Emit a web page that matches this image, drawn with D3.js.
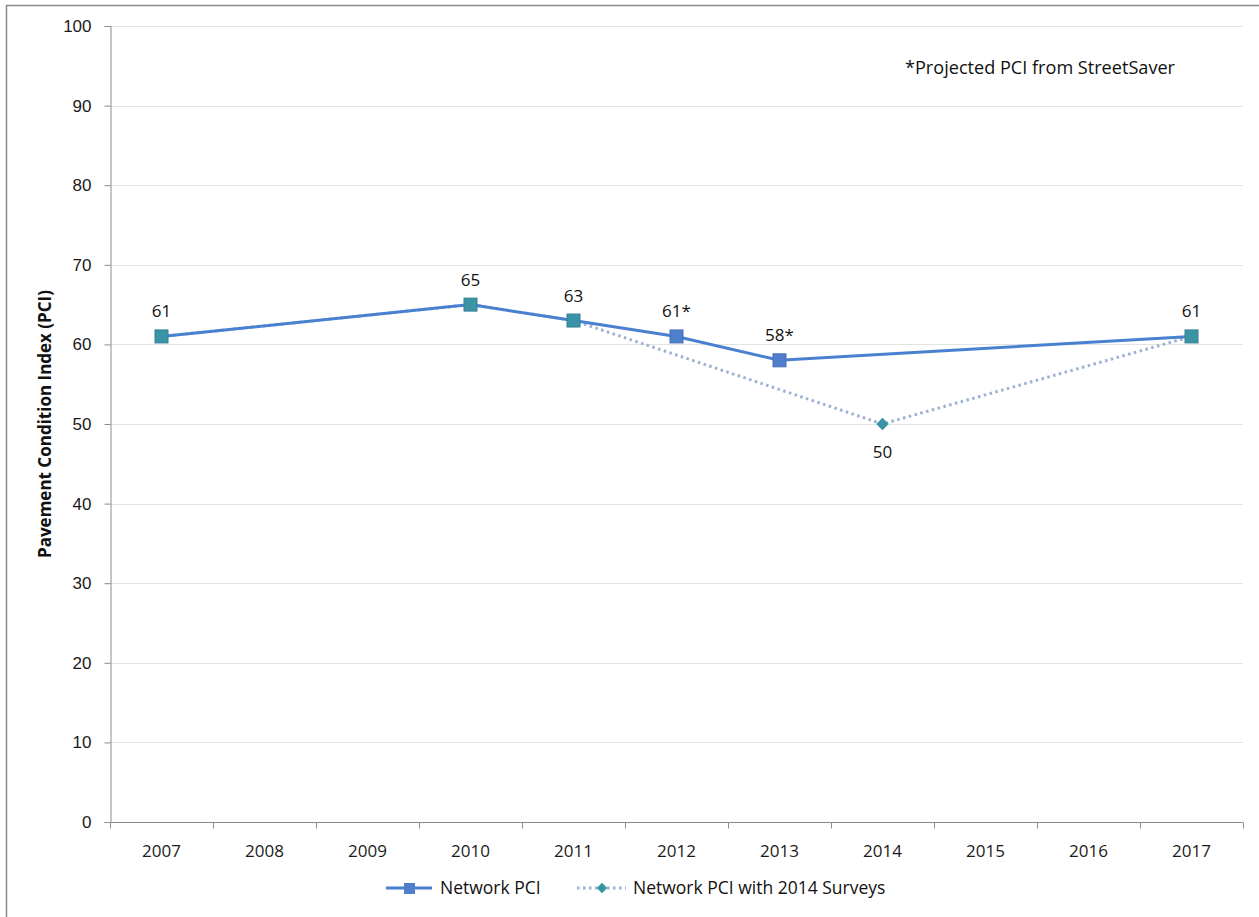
<!DOCTYPE html>
<html>
<head>
<meta charset="utf-8">
<script src="https://cdn.jsdelivr.net/npm/d3@7"></script>
<style>
  html, body { margin: 0; padding: 0; background: #fff; }
  svg { display: block; font-family: "Open Sans", "Liberation Sans", sans-serif; }
</style>
</head>
<body>
<svg id="chart" width="1259" height="917"></svg>
<script>
// Categories and series
const years = ["2007", "2008", "2009", "2010", "2011", "2012", "2013", "2014", "2015", "2016", "2017"];
const networkPCI = [
  { year: "2007", value: 61, label: "61" },
  { year: "2010", value: 65, label: "65" },
  { year: "2011", value: 63, label: "63" },
  { year: "2012", value: 61, label: "61*" },
  { year: "2013", value: 58, label: "58*" },
  { year: "2017", value: 61, label: "61" }
];
const surveyPCI = [
  { year: "2007", value: 61 },
  { year: "2010", value: 65 },
  { year: "2011", value: 63 },
  { year: "2014", value: 50, label: "50" },
  { year: "2017", value: 61 }
];
const yTicks = [0, 10, 20, 30, 40, 50, 60, 70, 80, 90, 100];
const seriesNames = ["Network PCI", "Network PCI with 2014 Surveys"];
const note = "*Projected PCI from StreetSaver";
const yTitle = "Pavement Condition Index (PCI)";

const blue = "#4a80d0";
const blueMarker = "#4f7fcc";
const teal = "#3a94a6";
const dotted = "#9cb1d2";
const axisGray = "#8c8c8c";
const gridGray = "#e3e3e3";

const svg = d3.select("#chart");
const plot = { left: 110, right: 1243, top: 26, bottom: 822 };

// Outer frame
svg.append("rect")
  .attr("x", 6.5).attr("y", 5.5)
  .attr("width", 1300).attr("height", 1000)
  .attr("fill", "none").attr("stroke", "#8a8a8a").attr("stroke-width", 1.5);

const x = d3.scaleBand().domain(years).range([plot.left, plot.right]);
const y = d3.scaleLinear().domain([0, 100]).range([plot.bottom, plot.top]);
const cx = d => x(d.year) + x.bandwidth() / 2;

// Gridlines
svg.append("g").selectAll("line").data(yTicks.filter(t => t > 0)).join("line")
  .attr("x1", plot.left).attr("x2", plot.right)
  .attr("y1", d => Math.round(y(d)) + 0.5).attr("y2", d => Math.round(y(d)) + 0.5)
  .attr("stroke", gridGray).attr("stroke-width", 1);

// Y axis
const yAxis = svg.append("g")
  .attr("transform", `translate(${plot.left + 0.5},0)`)
  .call(d3.axisLeft(y).tickValues(yTicks).tickSize(6).tickPadding(13));
yAxis.select(".domain").attr("stroke", axisGray);
yAxis.selectAll(".tick line").attr("stroke", axisGray);
yAxis.selectAll(".tick text").attr("font-size", 17).attr("fill", "#1a1a1a");

// X axis with ticks between categories
const xAxisG = svg.append("g").attr("transform", `translate(0,${Math.round(y(0)) + 0.5})`);
xAxisG.append("line")
  .attr("x1", plot.left).attr("x2", plot.right)
  .attr("stroke", axisGray);
const boundaries = years.map(d => x(d)).concat([plot.right]);
xAxisG.selectAll("line.tk").data(boundaries).join("line")
  .attr("class", "tk")
  .attr("x1", d => Math.round(d) + 0.5).attr("x2", d => Math.round(d) + 0.5)
  .attr("y1", 0).attr("y2", 6)
  .attr("stroke", axisGray);
xAxisG.selectAll("text").data(years).join("text")
  .attr("x", d => x(d) + x.bandwidth() / 2)
  .attr("y", 34)
  .attr("text-anchor", "middle")
  .attr("font-size", 17).attr("fill", "#1a1a1a")
  .text(d => d);

// Y axis title
svg.append("text")
  .attr("transform", `translate(51,${(plot.top + plot.bottom) / 2}) rotate(-90)`)
  .attr("text-anchor", "middle")
  .attr("font-size", 17).attr("font-weight", "bold").attr("fill", "#111")
  .text(yTitle);

const line = d3.line().x(cx).y(d => y(d.value));

// Series: with 2014 surveys (dotted)
svg.append("path")
  .datum(surveyPCI)
  .attr("d", line)
  .attr("fill", "none").attr("stroke", dotted)
  .attr("stroke-width", 3).attr("stroke-dasharray", "2.5,3.5");

// Series: network PCI (solid)
svg.append("path")
  .datum(networkPCI)
  .attr("d", line)
  .attr("fill", "none").attr("stroke", blue).attr("stroke-width", 3);

// Square markers (teal where the survey series shares the point)
const surveyYears = new Set(surveyPCI.map(d => d.year));
svg.append("g").selectAll("rect").data(networkPCI).join("rect")
  .attr("x", d => cx(d) - 6.5).attr("y", d => y(d.value) - 6.5)
  .attr("width", 13).attr("height", 13)
  .attr("fill", d => surveyYears.has(d.year) ? teal : blueMarker)
  .attr("stroke", d => surveyYears.has(d.year) ? "#347f92" : "#4470b8")
  .attr("stroke-width", 1);

// Diamond markers for survey-only points
const netYears = new Set(networkPCI.map(d => d.year));
svg.append("g").selectAll("path").data(surveyPCI.filter(d => !netYears.has(d.year))).join("path")
  .attr("d", d3.symbol(d3.symbolDiamond2, 100)())
  .attr("transform", d => `translate(${cx(d)},${y(d.value)})`)
  .attr("fill", teal);

// Data labels
svg.append("g").selectAll("text").data(networkPCI).join("text")
  .attr("x", d => cx(d)).attr("y", d => y(d.value) - 19)
  .attr("text-anchor", "middle")
  .attr("font-size", 17).attr("fill", "#111")
  .text(d => d.label);
svg.append("g").selectAll("text").data(surveyPCI.filter(d => d.label)).join("text")
  .attr("x", d => cx(d)).attr("y", d => y(d.value) + 34)
  .attr("text-anchor", "middle")
  .attr("font-size", 17).attr("fill", "#111")
  .text(d => d.label);

// Note
svg.append("text")
  .attr("x", 905).attr("y", 74)
  .attr("font-size", 17.5).attr("fill", "#111")
  .attr("textLength", 270).attr("lengthAdjust", "spacingAndGlyphs")
  .text(note);

// Legend
const lg = svg.append("g").attr("transform", "translate(0,888)");
lg.append("line").attr("x1", 386).attr("x2", 432).attr("stroke", blue).attr("stroke-width", 3);
lg.append("rect").attr("x", 404).attr("y", -5).attr("width", 11).attr("height", 11).attr("fill", blueMarker);
lg.append("text").attr("x", 440).attr("y", 6).attr("font-size", 17.5).attr("fill", "#111").text(seriesNames[0]);
lg.append("line").attr("x1", 577).attr("x2", 626).attr("stroke", dotted).attr("stroke-width", 3).attr("stroke-dasharray", "2.5,3.5");
lg.append("path").attr("d", d3.symbol(d3.symbolDiamond2, 70)()).attr("transform", "translate(602,0)").attr("fill", teal);
lg.append("text").attr("x", 633).attr("y", 6).attr("font-size", 17.5).attr("fill", "#111").text(seriesNames[1]);
</script>
</body>
</html>
